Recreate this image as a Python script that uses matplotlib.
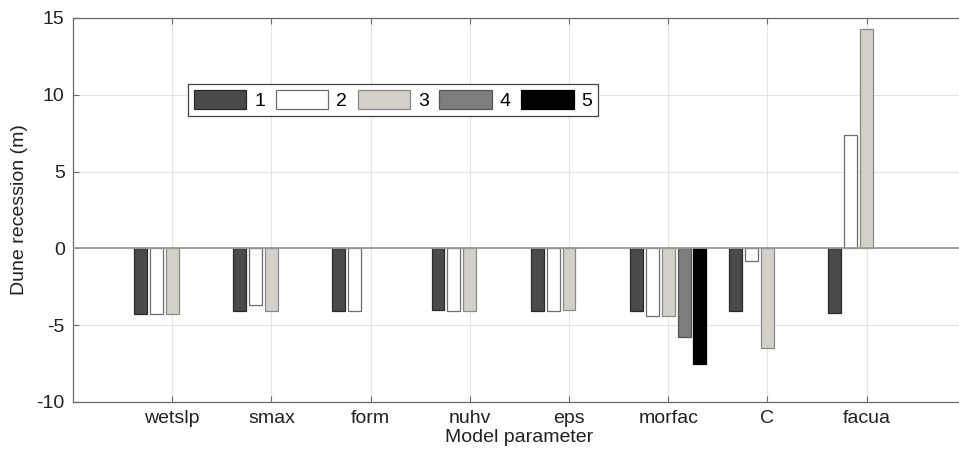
import matplotlib.pyplot as plt
import numpy as np

# dune recession per model parameter, one series per setting (1..5)
params = ['wetslp', 'smax', 'form', 'nuhv', 'eps', 'morfac', 'C', 'facua']
series_names = ['1', '2', '3', '4', '5']
s1 = [-4.3, -4.05, -4.05, -4.0, -4.05, -4.05, -4.05, -4.2]
s2 = [-4.3, -3.7, -4.1, -4.1, -4.1, -4.4, -0.85, 7.4]
s3 = [-4.3, -4.1, np.nan, -4.1, -4.0, -4.4, -6.5, 14.3]
s4 = [np.nan, np.nan, np.nan, np.nan, np.nan, -5.75, np.nan, np.nan]
s5 = [np.nan, np.nan, np.nan, np.nan, np.nan, -7.55, np.nan, np.nan]

colors = ['#4a4a4a', '#ffffff', '#d3d0ca', '#7d7d7d', '#000000']
edges = ['#2a2a2a', '#6e6e6e', '#8a8a8a', '#555555', '#000000']

plt.rcParams['font.family'] = ['Liberation Sans', 'DejaVu Sans']
plt.rcParams['font.size'] = 14
plt.rcParams['axes.unicode_minus'] = False

fig = plt.figure(figsize=(9.59, 4.55), dpi=100)
ax = fig.add_axes([0.0761, 0.1165, 0.931, 0.844])

x = np.arange(1, len(params) + 1)
step = 0.16
width = 0.13
for i, vals in enumerate([s1, s2, s3, s4, s5]):
    ax.bar(x + (i - 2) * step, vals, width, color=colors[i], edgecolor=edges[i],
           linewidth=0.9, label=series_names[i], zorder=3)

ax.axhline(0, color='#9a9a9a', linewidth=1.3, zorder=4)

ax.set_xlim(0, 9)
ax.set_ylim(-10, 15)
ax.set_xticks(x)
ax.set_xticklabels(params)
ax.set_yticks([-10, -5, 0, 5, 10, 15])
ax.grid(True, color='#e4e4e4', linewidth=0.8, zorder=0)
ax.set_axisbelow(True)

for s in ax.spines.values():
    s.set_color('#6a6a6a')
    s.set_linewidth(0.9)
ax.tick_params(direction='in', length=4, color='#6a6a6a', top=True, right=True,
               labelcolor='#222222', labelsize=14, pad=6)

ax.set_xlabel('Model parameter', fontsize=14, color='#222222', labelpad=1)
ax.set_ylabel('Dune recession (m)', fontsize=14, color='#222222', labelpad=6)

leg = ax.legend(loc='upper left', bbox_to_anchor=(0.1288, 0.828), ncol=5,
                fontsize=14, handlelength=2.7, handleheight=1.15,
                handletextpad=0.4, columnspacing=0.55, borderpad=0.3,
                borderaxespad=0, fancybox=False, framealpha=1,
                edgecolor='#444444')
leg.get_frame().set_linewidth(0.9)

fig.savefig('out.png', dpi=100)
